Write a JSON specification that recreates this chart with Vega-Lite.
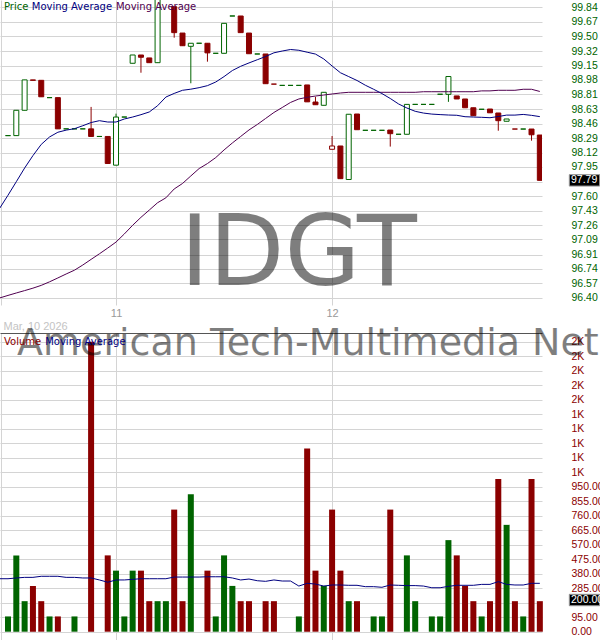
{
"$schema": "https://vega.github.io/schema/vega-lite/v6.json",
"padding": 0,
"background": "white",
"bounds": "flush",
"spacing": 28,
"config": {"view": {"stroke": null}, "font": "Liberation Sans"},
"datasets": {
"bars": [
{"i":-1,"ma1":97.46,"ma2":96.397,"vma":347},
{"i":0,"o":98.32,"c":98.32,"h":98.32,"l":98.32,"dir":"up","v":100,"ma1":97.614,"ma2":96.427,"vma":347},
{"i":1,"o":98.32,"c":98.62,"h":98.62,"l":98.32,"dir":"up","v":500,"ma1":97.774,"ma2":96.456,"vma":352},
{"i":2,"o":98.62,"c":98.98,"h":98.98,"l":98.62,"dir":"up","v":200,"ma1":97.936,"ma2":96.484,"vma":356},
{"i":3,"o":98.98,"c":98.975,"h":98.98,"l":98.975,"dir":"down","v":300,"ma1":98.083,"ma2":96.513,"vma":356},
{"i":4,"o":98.975,"c":98.78,"h":98.975,"l":98.78,"dir":"down","v":200,"ma1":98.216,"ma2":96.546,"vma":363},
{"i":5,"o":98.77,"c":98.77,"h":98.77,"l":98.77,"dir":"up","v":100,"ma1":98.304,"ma2":96.588,"vma":363},
{"i":6,"o":98.77,"c":98.4,"h":98.77,"l":98.4,"dir":"down","v":100,"ma1":98.36,"ma2":96.634,"vma":363},
{"i":7,"o":98.4,"c":98.4,"h":98.4,"l":98.4,"dir":"up","v":0,"ma1":98.385,"ma2":96.681,"vma":356},
{"i":8,"o":98.4,"c":98.4,"h":98.4,"l":98.4,"dir":"up","v":100,"ma1":98.402,"ma2":96.726,"vma":356},
{"i":9,"o":98.4,"c":98.4,"h":98.4,"l":98.4,"dir":"up","v":0,"ma1":98.437,"ma2":96.787,"vma":352},
{"i":10,"o":98.4,"c":98.31,"h":98.66,"l":98.31,"dir":"down","v":1900,"ma1":98.475,"ma2":96.854,"vma":352},
{"i":11,"o":98.31,"c":98.31,"h":98.31,"l":98.31,"dir":"up","v":0,"ma1":98.497,"ma2":96.92,"vma":339},
{"i":12,"o":98.31,"c":97.99,"h":98.31,"l":97.99,"dir":"down","v":500,"ma1":98.481,"ma2":96.988,"vma":324},
{"i":13,"o":97.97,"c":98.54,"h":98.58,"l":97.97,"dir":"up","v":400,"ma1":98.481,"ma2":97.059,"vma":339},
{"i":14,"o":98.54,"c":98.54,"h":98.54,"l":98.54,"dir":"up","v":100,"ma1":98.517,"ma2":97.155,"vma":339},
{"i":15,"o":99.177,"c":99.275,"h":99.275,"l":99.177,"dir":"up","v":400,"ma1":98.54,"ma2":97.258,"vma":343},
{"i":16,"o":99.275,"c":99.248,"h":99.275,"l":99.065,"dir":"down","v":400,"ma1":98.568,"ma2":97.352,"vma":347},
{"i":17,"o":99.24,"c":99.184,"h":99.24,"l":99.184,"dir":"down","v":200,"ma1":98.6,"ma2":97.438,"vma":347},
{"i":18,"o":99.184,"c":99.95,"h":99.95,"l":99.184,"dir":"up","v":200,"ma1":98.674,"ma2":97.525,"vma":347},
{"i":19,"o":99.95,"c":99.95,"h":99.95,"l":99.95,"dir":"up","v":200,"ma1":98.777,"ma2":97.583,"vma":347},
{"i":20,"o":99.847,"c":99.54,"h":99.847,"l":99.48,"dir":"down","v":800,"ma1":98.82,"ma2":97.688,"vma":358},
{"i":21,"o":99.535,"c":99.385,"h":99.535,"l":99.385,"dir":"down","v":200,"ma1":98.857,"ma2":97.753,"vma":358},
{"i":22,"o":99.378,"c":99.414,"h":99.414,"l":98.94,"dir":"up","v":900,"ma1":98.87,"ma2":97.842,"vma":358},
{"i":23,"o":99.414,"c":99.414,"h":99.414,"l":99.414,"dir":"up","v":0,"ma1":98.888,"ma2":97.93,"vma":358},
{"i":24,"o":99.414,"c":99.3,"h":99.414,"l":99.196,"dir":"down","v":400,"ma1":98.912,"ma2":97.989,"vma":360},
{"i":25,"o":99.295,"c":99.295,"h":99.295,"l":99.295,"dir":"up","v":100,"ma1":98.955,"ma2":98.06,"vma":360},
{"i":26,"o":99.295,"c":99.65,"h":99.65,"l":99.295,"dir":"up","v":500,"ma1":99.019,"ma2":98.15,"vma":360},
{"i":27,"o":99.737,"c":99.737,"h":99.737,"l":99.737,"dir":"up","v":300,"ma1":99.091,"ma2":98.233,"vma":352},
{"i":28,"o":99.737,"c":99.54,"h":99.737,"l":99.54,"dir":"down","v":200,"ma1":99.141,"ma2":98.31,"vma":339},
{"i":29,"o":99.535,"c":99.29,"h":99.535,"l":99.29,"dir":"down","v":200,"ma1":99.181,"ma2":98.387,"vma":345},
{"i":30,"o":99.287,"c":99.287,"h":99.287,"l":99.287,"dir":"up","v":0,"ma1":99.219,"ma2":98.452,"vma":334},
{"i":31,"o":99.287,"c":98.935,"h":99.287,"l":98.935,"dir":"down","v":200,"ma1":99.257,"ma2":98.523,"vma":330},
{"i":32,"o":98.93,"c":98.93,"h":98.93,"l":98.93,"dir":"down","v":200,"ma1":99.301,"ma2":98.594,"vma":339},
{"i":33,"o":98.915,"c":98.915,"h":98.915,"l":98.915,"dir":"up","v":0,"ma1":99.322,"ma2":98.653,"vma":332},
{"i":34,"o":98.915,"c":98.915,"h":98.915,"l":98.915,"dir":"up","v":0,"ma1":99.34,"ma2":98.713,"vma":332},
{"i":35,"o":98.915,"c":98.915,"h":98.915,"l":98.915,"dir":"up","v":100,"ma1":99.331,"ma2":98.754,"vma":299},
{"i":36,"o":98.92,"c":98.72,"h":98.92,"l":98.72,"dir":"down","v":1200,"ma1":99.308,"ma2":98.774,"vma":317},
{"i":37,"o":98.718,"c":98.686,"h":98.78,"l":98.686,"dir":"down","v":400,"ma1":99.286,"ma2":98.789,"vma":312},
{"i":38,"o":98.679,"c":98.833,"h":98.833,"l":98.679,"dir":"up","v":300,"ma1":99.228,"ma2":98.801,"vma":299},
{"i":39,"o":98.158,"c":98.197,"h":98.315,"l":98.158,"dir":"down","v":800,"ma1":99.145,"ma2":98.813,"vma":306},
{"i":40,"o":98.197,"c":97.81,"h":98.197,"l":97.81,"dir":"down","v":400,"ma1":99.065,"ma2":98.825,"vma":306},
{"i":41,"o":97.8,"c":98.573,"h":98.573,"l":97.8,"dir":"up","v":200,"ma1":99.019,"ma2":98.833,"vma":304},
{"i":42,"o":98.576,"c":98.39,"h":98.576,"l":98.39,"dir":"down","v":200,"ma1":98.973,"ma2":98.833,"vma":304},
{"i":43,"o":98.383,"c":98.383,"h":98.383,"l":98.383,"dir":"up","v":0,"ma1":98.917,"ma2":98.833,"vma":295},
{"i":44,"o":98.383,"c":98.383,"h":98.383,"l":98.383,"dir":"up","v":100,"ma1":98.869,"ma2":98.833,"vma":295},
{"i":45,"o":98.383,"c":98.383,"h":98.383,"l":98.383,"dir":"up","v":100,"ma1":98.818,"ma2":98.833,"vma":291},
{"i":46,"o":98.386,"c":98.343,"h":98.386,"l":98.19,"dir":"down","v":800,"ma1":98.76,"ma2":98.833,"vma":306},
{"i":47,"o":98.336,"c":98.336,"h":98.336,"l":98.336,"dir":"up","v":0,"ma1":98.695,"ma2":98.833,"vma":304},
{"i":48,"o":98.336,"c":98.69,"h":98.69,"l":98.336,"dir":"up","v":500,"ma1":98.647,"ma2":98.833,"vma":302},
{"i":49,"o":98.69,"c":98.69,"h":98.69,"l":98.69,"dir":"up","v":200,"ma1":98.608,"ma2":98.833,"vma":302},
{"i":50,"o":98.69,"c":98.69,"h":98.69,"l":98.69,"dir":"up","v":0,"ma1":98.587,"ma2":98.84,"vma":299},
{"i":51,"o":98.69,"c":98.69,"h":98.69,"l":98.69,"dir":"up","v":100,"ma1":98.575,"ma2":98.84,"vma":288},
{"i":52,"o":98.81,"c":98.81,"h":98.81,"l":98.81,"dir":"up","v":100,"ma1":98.569,"ma2":98.84,"vma":288},
{"i":53,"o":98.809,"c":99.02,"h":99.02,"l":98.72,"dir":"up","v":600,"ma1":98.564,"ma2":98.84,"vma":297},
{"i":54,"o":98.79,"c":98.754,"h":98.79,"l":98.754,"dir":"down","v":500,"ma1":98.561,"ma2":98.84,"vma":304},
{"i":55,"o":98.754,"c":98.65,"h":98.754,"l":98.65,"dir":"down","v":300,"ma1":98.544,"ma2":98.84,"vma":304},
{"i":56,"o":98.65,"c":98.556,"h":98.65,"l":98.556,"dir":"down","v":200,"ma1":98.54,"ma2":98.84,"vma":304},
{"i":57,"o":98.632,"c":98.632,"h":98.632,"l":98.632,"dir":"up","v":100,"ma1":98.537,"ma2":98.85,"vma":310},
{"i":58,"o":98.635,"c":98.59,"h":98.635,"l":98.59,"dir":"down","v":200,"ma1":98.532,"ma2":98.85,"vma":310},
{"i":59,"o":98.588,"c":98.497,"h":98.588,"l":98.378,"dir":"down","v":1000,"ma1":98.546,"ma2":98.857,"vma":328},
{"i":60,"o":98.49,"c":98.517,"h":98.517,"l":98.49,"dir":"up","v":700,"ma1":98.563,"ma2":98.857,"vma":310},
{"i":61,"o":98.398,"c":98.398,"h":98.398,"l":98.398,"dir":"down","v":200,"ma1":98.563,"ma2":98.857,"vma":306},
{"i":62,"o":98.398,"c":98.398,"h":98.398,"l":98.398,"dir":"up","v":100,"ma1":98.571,"ma2":98.869,"vma":306},
{"i":63,"o":98.398,"c":98.33,"h":98.398,"l":98.26,"dir":"down","v":1000,"ma1":98.56,"ma2":98.869,"vma":317},
{"i":64,"o":98.327,"c":97.79,"h":98.327,"l":97.79,"dir":"down","v":200,"ma1":98.545,"ma2":98.843,"vma":317}
]
},
"vconcat": [
{
"width": 542,
"height": 305,
"layer": [
{
"data": {"name": "bars"},
"mark": {"type": "rule", "clip": true, "strokeWidth": 1},
"encoding": {
"x": {"field": "i", "type": "quantitative", "scale": {"domain": [-0.9627, 64.26], "nice": false, "zero": false, "padding": 0},
"axis": {"orient": "bottom", "values": [-0.9, 13, 39], "tickCount": 100, "labelOverlap": false, "labelExpr": "datum.value == 13 ? '11' : datum.value == 39 ? '12' : ''", "grid": true, "gridColor": "#d4d4d4", "domain": false, "ticks": false, "labelColor": "#999999", "labelFontSize": 11, "labelPadding": 2, "title": "Mar, 10 2026", "titleX": 3, "titleAlign": "left", "titleAnchor": "start", "titleColor": "#c4c4c4", "titleFontWeight": "normal", "titleFontSize": 11, "titlePadding": 2}},
"y": {"field": "l", "type": "quantitative", "scale": {"domain": [96.3135, 99.9265], "nice": false, "zero": false},
"axis": {"orient": "right", "values": [96.40, 96.57, 96.74, 96.91, 97.09, 97.26, 97.43, 97.60, 97.77, 97.95, 98.12, 98.29, 98.46, 98.63, 98.81, 98.98, 99.15, 99.32, 99.50, 99.67, 99.84], "tickCount": 100, "labelOverlap": false, "labelExpr": "datum.value == 97.77 ? '' : format(datum.value, '.2f')", "grid": true, "gridColor": "#d4d4d4", "domain": false, "ticks": false, "labelColor": "#006400", "labelFontSize": 10.5, "labelPadding": 29, "title": null}},
"y2": {"field": "h"},
"stroke": {"field": "dir", "type": "nominal", "scale": {"domain": ["up", "down"], "range": ["#006400", "#8b0000"]}, "legend": null}
}
},
{
"data": {"values": [{}]},
"mark": {"type": "text", "text": "IDGT", "font": "DejaVu Sans", "fontSize": 98, "align": "center", "baseline": "alphabetic", "fill": "#000000", "opacity": 0.5},
"encoding": {
"x": {"datum": 34.96, "type": "quantitative"},
"y": {"datum": 96.55, "type": "quantitative"}
}
},
{
"data": {"name": "bars"},
"mark": {"type": "bar", "clip": true, "width": 5, "strokeWidth": 1},
"encoding": {
"x": {"field": "i", "type": "quantitative"},
"y": {"field": "o", "type": "quantitative"},
"y2": {"field": "c"},
"fill": {"condition": {"test": "datum.c >= datum.o", "value": "white"}, "field": "dir", "type": "nominal", "scale": {"domain": ["up", "down"], "range": ["#006400", "#8b0000"]}, "legend": null},
"stroke": {"field": "dir", "type": "nominal", "legend": null}
}
},
{
"data": {"name": "bars"},
"mark": {"type": "line", "clip": true, "stroke": "#500050", "strokeWidth": 1},
"encoding": {
"x": {"field": "i", "type": "quantitative"},
"y": {"field": "ma2", "type": "quantitative"}
}
},
{
"data": {"name": "bars"},
"mark": {"type": "line", "clip": true, "stroke": "#000080", "strokeWidth": 1},
"encoding": {
"x": {"field": "i", "type": "quantitative"},
"y": {"field": "ma1", "type": "quantitative"}
}
},
{
"data": {"values": [{}]},
"mark": {"type": "text", "text": "Price", "font": "DejaVu Sans", "fontSize": 10, "align": "left", "baseline": "alphabetic", "fill": "#006400"},
"encoding": {"x": {"datum": -0.481, "type": "quantitative"}, "y": {"datum": 99.808, "type": "quantitative"}}
},
{
"data": {"values": [{}]},
"mark": {"type": "text", "text": "Moving Average", "font": "DejaVu Sans", "fontSize": 10, "align": "left", "baseline": "alphabetic", "fill": "#000080"},
"encoding": {"x": {"datum": 2.858, "type": "quantitative"}, "y": {"datum": 99.808, "type": "quantitative"}}
},
{
"data": {"values": [{}]},
"mark": {"type": "text", "text": "Moving Average", "font": "DejaVu Sans", "fontSize": 10, "align": "left", "baseline": "alphabetic", "fill": "#500050"},
"encoding": {"x": {"datum": 12.985, "type": "quantitative"}, "y": {"datum": 99.808, "type": "quantitative"}}
},
{
"data": {"values": [{}]},
"mark": {"type": "rect", "fill": "#000000", "stroke": "#999999", "strokeWidth": 1},
"encoding": {"x": {"datum": 67.547, "type": "quantitative"}, "x2": {"datum": 71.2}, "y": {"datum": 97.8575, "type": "quantitative"}, "y2": {"datum": 97.7225}}
},
{
"data": {"values": [{}]},
"mark": {"type": "text", "text": "97.79", "fontSize": 10.5, "align": "left", "baseline": "middle", "fill": "#ffffff"},
"encoding": {"x": {"datum": 67.752, "type": "quantitative"}, "y": {"datum": 97.79, "type": "quantitative"}}
}
]
},
{
"width": 542,
"height": 307,
"layer": [
{
"data": {"name": "bars"},
"mark": {"type": "bar", "width": 6},
"encoding": {
"x": {"field": "i", "type": "quantitative", "scale": {"domain": [-0.9627, 64.26], "nice": false, "zero": false, "padding": 0},
"axis": {"orient": "top", "values": [-0.9, 13, 39], "tickCount": 100, "labels": false, "ticks": false, "domain": true, "domainColor": "#555555", "grid": true, "gridColor": "#d4d4d4", "title": null}},
"y": {"field": "v", "type": "quantitative", "scale": {"domain": [-54.4, 1957], "nice": false, "zero": false},
"axis": {"orient": "right", "values": [0, 95, 190, 285, 380, 475, 570, 665, 760, 855, 950, 1045, 1140, 1235, 1330, 1425, 1520, 1615, 1710, 1805, 1900], "tickCount": 100, "labelOverlap": false, "labelExpr": "datum.value == 190 ? '' : (datum.value >= 1000 ? format(datum.value / 1000, '.0f') + 'K' : format(datum.value, '.2f'))", "grid": true, "gridColor": "#d4d4d4", "domain": false, "ticks": false, "labelColor": "#8b0000", "labelFontSize": 10.5, "labelPadding": 29, "title": null}},
"y2": {"datum": 0},
"color": {"field": "dir", "type": "nominal", "scale": {"domain": ["up", "down"], "range": ["#006400", "#8b0000"]}, "legend": null}
}
},
{
"data": {"values": [{}]},
"mark": {"type": "text", "text": "American Tech-Multimedia Networking", "font": "DejaVu Sans", "fontSize": 38, "align": "left", "baseline": "alphabetic", "fill": "#000000", "opacity": 0.5, "limit": 583, "ellipsis": "\u200b"},
"encoding": {
"x": {"datum": 1.083, "type": "quantitative"},
"y": {"datum": 1813, "type": "quantitative"}
}
},
{
"data": {"name": "bars"},
"mark": {"type": "line", "clip": true, "stroke": "#000080", "strokeWidth": 1},
"encoding": {
"x": {"field": "i", "type": "quantitative"},
"y": {"field": "vma", "type": "quantitative"}
}
},
{
"data": {"values": [{}]},
"mark": {"type": "text", "text": "Volume", "font": "DejaVu Sans", "fontSize": 10, "align": "left", "baseline": "alphabetic", "fill": "#8b0000"},
"encoding": {"x": {"datum": -0.481, "type": "quantitative"}, "y": {"datum": 1880, "type": "quantitative"}}
},
{
"data": {"values": [{}]},
"mark": {"type": "text", "text": "Moving Average", "font": "DejaVu Sans", "fontSize": 10, "align": "left", "baseline": "alphabetic", "fill": "#000080"},
"encoding": {"x": {"datum": 4.477, "type": "quantitative"}, "y": {"datum": 1880, "type": "quantitative"}}
},
{
"data": {"values": [{}]},
"mark": {"type": "rect", "fill": "#000000", "stroke": "#999999", "strokeWidth": 1},
"encoding": {"x": {"datum": 67.547, "type": "quantitative"}, "x2": {"datum": 71.2}, "y": {"datum": 245, "type": "quantitative"}, "y2": {"datum": 170}}
},
{
"data": {"values": [{}]},
"mark": {"type": "text", "text": "200.00", "fontSize": 10.5, "align": "left", "baseline": "middle", "fill": "#ffffff"},
"encoding": {"x": {"datum": 67.752, "type": "quantitative"}, "y": {"datum": 208, "type": "quantitative"}}
}
]
}
]
}
